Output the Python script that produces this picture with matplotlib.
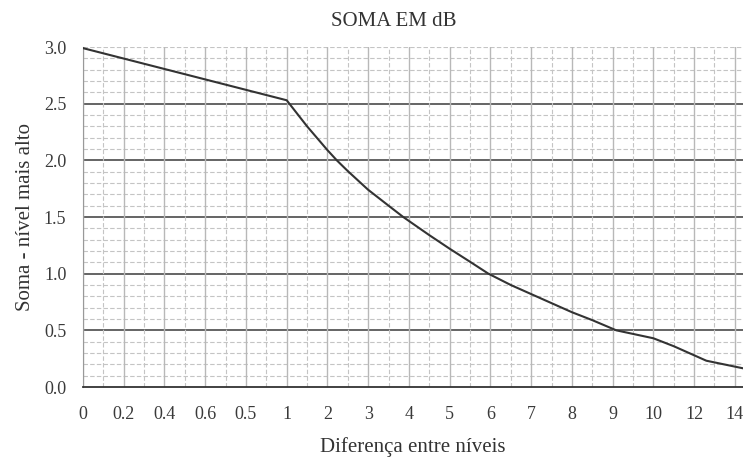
import numpy as np
import matplotlib
matplotlib.use("Agg")
import matplotlib.pyplot as plt

plt.rcParams['font.family'] = ['Liberation Serif', 'DejaVu Serif']

# tick labels, placed at equal spacing (positions 0..16)
tick_labels = ['0', '0.2', '0.4', '0.6', '0.5', '1', '2', '3', '4', '5',
               '6', '7', '8', '9', '10', '12', '14']

# curve (x in tick-position units)
curve_x = [0, 5, 5.5, 6, 6.23, 6.5, 7, 7.5, 7.86, 8, 8.5, 9, 9.5, 9.95,
           10.5, 11, 11.5, 12, 12.5, 13.09, 14, 14.5, 15.3, 16.2]
curve_y = [2.99, 2.53, 2.30, 2.09, 2.0, 1.905, 1.74, 1.60, 1.50, 1.465,
           1.34, 1.22, 1.105, 1.0, 0.90, 0.82, 0.74, 0.66, 0.59, 0.50,
           0.43, 0.36, 0.232, 0.165]

fig = plt.figure(figsize=(7.43, 4.57), dpi=100)
ax = fig.add_axes([83 / 743, 1 - 387 / 457, 1 - 83 / 743, (387 - 47) / 457])

# grid
for yv in np.arange(0.1, 3.01, 0.1):
    if abs(yv / 0.5 - round(yv / 0.5)) < 1e-6 and yv < 2.99:
        ax.axhline(yv, color='#3a3a3a', lw=1.1, zorder=1)
    else:
        ax.axhline(yv, color='#c4c4c4', lw=0.8, ls=(0, (4, 2)), zorder=1)
for xv in range(len(tick_labels)):
    ax.axvline(xv, color='#b8b8b8', lw=1.0, zorder=1)
    ax.axvline(xv + 0.5, color='#c4c4c4', lw=0.8, ls=(0, (4, 2)), zorder=1)

ax.plot(curve_x, curve_y, color='#333333', lw=1.5, zorder=3)

ax.set_xlim(0, 16.2)
ax.set_ylim(0, 3.0)
ax.set_xticks(range(len(tick_labels)))
ax.set_xticklabels(tick_labels)
ax.set_yticks(np.arange(0, 3.01, 0.5))
ax.set_yticklabels([f'{v:.1f}' for v in np.arange(0, 3.01, 0.5)])
ax.tick_params(length=0, labelsize=13, colors='#3a3a3a')
ax.tick_params(axis='x', pad=14)
ax.tick_params(axis='y', pad=12)

for s in ['top', 'right']:
    ax.spines[s].set_visible(False)
ax.spines['left'].set_color('#999999')
ax.spines['bottom'].set_color('#333333')
ax.spines['bottom'].set_linewidth(1.3)

ax.set_xlabel('Diferença entre níveis', fontsize=15, color='#333333', labelpad=10)
ax.set_ylabel('Soma - nível mais alto', fontsize=15, color='#333333', labelpad=6)
fig.text(394 / 743, 1 - 21 / 457, 'SOMA EM dB', ha='center', va='center',
         fontsize=15, color='#333333')

fig.savefig('out.png', dpi=100)
